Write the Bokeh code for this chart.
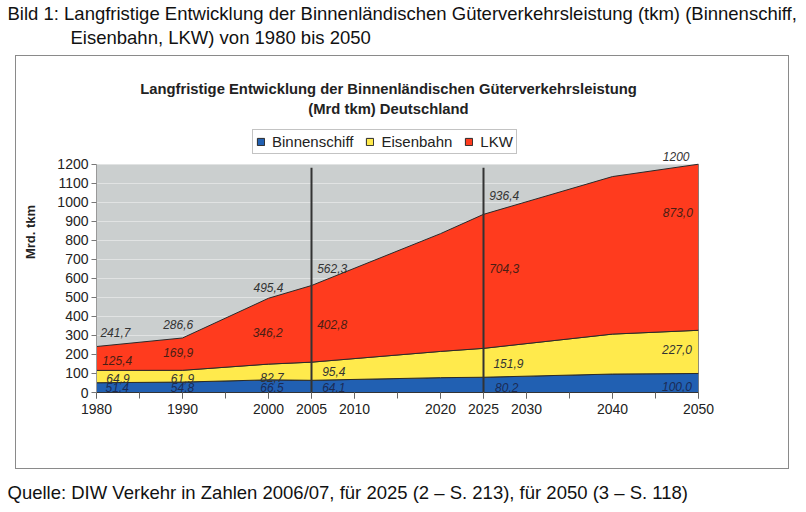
import numpy as np
from bokeh.plotting import figure
from bokeh.models import Range1d, FixedTicker, Label, Legend, LegendItem, Title, BoxAnnotation
from bokeh.embed import file_html
from bokeh.resources import INLINE

# ---------------- data ----------------
years = [1980, 1990, 2000, 2005, 2020, 2025, 2040, 2050]
binnenschiff = [51.4, 54.8, 66.5, 64.1, 78.0, 80.2, 97.0, 100.0]
eisenbahn = [64.9, 61.9, 82.7, 95.4, 138.0, 151.9, 210.0, 227.0]
lkw = [125.4, 169.9, 346.2, 402.8, 619.0, 704.3, 828.0, 873.0]
labelled_years = [1980, 1990, 2000, 2005, 2025, 2050]
marker_years = [2005, 2025]
x_label_years = [1980, 1990, 2000, 2005, 2010, 2020, 2025, 2030, 2040, 2050]
x_tick_years = list(range(1980, 2051, 5))
y_ticks = list(range(0, 1201, 100))
series_names = ["Binnenschiff", "Eisenbahn", "LKW"]

page_title_1 = "Bild 1:  Langfristige Entwicklung der Binnenländischen Güterverkehrsleistung (tkm) (Binnenschiff,"
page_title_2 = "Eisenbahn, LKW) von 1980 bis 2050"
chart_title_1 = "Langfristige Entwicklung der Binnenländischen Güterverkehrsleistung"
chart_title_2 = "(Mrd tkm) Deutschland"
y_title = "Mrd. tkm"
source_text = "Quelle: DIW Verkehr in Zahlen 2006/07, für 2025 (2 – S. 213), für 2050 (3 – S. 118)"

# ---------------- styles / layout ----------------
colors = ["#2160B2", "#FFEA4C", "#FF3B1E"]
label_colors = ["#1B2B55", "#333333", "#4A1E14"]
total_color = "#333333"
plot_bg = "#CBCFCF"
FONT = "Liberation Sans"
W, H = 806, 512
X0, X1, YMAX = 1980, 2050, 1200
FL, FR, FT, FB = 96, 698, 70, 392   # frame (extends above the 1200 line)
PX_TOP = 163                        # pixel row of the 1200 line

# label layout: (year position, value position) for each labelled year
pos_b = [(1982.4, 27), (1990.0, 27), (2000.4, 27), (2007.6, 27), (2027.7, 27), (2047.5, 32)]
pos_e = [(1982.5, 76), (1990.0, 76), (2000.4, 78), (2007.6, 109), (2027.9, 150), (2047.5, 225)]
pos_l = [(1982.4, 166), (1989.5, 209), (1999.9, 314), (2007.4, 360), (2027.4, 650), (2047.6, 945)]
pos_t = [(1982.2, 314), (1989.5, 360), (2000.0, 550), (2007.4, 650), (2027.4, 1033), (2047.4, 1239)]


def fmt(v):
    return f"{v:.1f}".replace(".", ",")


def dx(px):
    return X0 + (px - FL) * (X1 - X0) / (FR - FL)


def dy(py):
    return (FB - py) * YMAX / (FB - PX_TOP)


box_css = ("linear-gradient(#8A8A8A,#8A8A8A) 15px 55px / 774px 1px no-repeat, "
           "linear-gradient(#8A8A8A,#8A8A8A) 15px 468px / 774px 1px no-repeat, "
           "linear-gradient(#8A8A8A,#8A8A8A) 15px 55px / 1px 414px no-repeat, "
           "linear-gradient(#8A8A8A,#8A8A8A) 788px 55px / 1px 414px no-repeat, white")

p = figure(width=W, height=H, output_backend="svg", toolbar_location=None,
           x_range=Range1d(X0, X1), y_range=Range1d(0, dy(FT)),
           min_border_left=FL, min_border_right=W - FR,
           min_border_top=FT, min_border_bottom=H - FB)
p.background_fill_color = None
p.border_fill_color = "white"
p.border_fill_alpha = 0
p.outline_line_color = None
p.styles = {"background": box_css}

# grey plot area (0..1200), drawn beneath the grid lines
area_bg = BoxAnnotation(left=X0, right=X1, bottom=0, top=YMAX, fill_color=plot_bg,
                        fill_alpha=1, line_color=None, level="underlay")
p.center.insert(0, area_bg)

x = np.array(years, dtype=float)
vals = [np.array(binnenschiff), np.array(eisenbahn), np.array(lkw)]
levels = [np.zeros(len(years))]
for v in vals:
    levels.append(levels[-1] + v)

renderers = []
for i in range(3):
    lo, hi = levels[i], levels[i + 1]
    xs = np.concatenate([x, x[::-1]])
    ys = np.concatenate([hi, lo[::-1]])
    r = p.patch(xs, ys, fill_color=colors[i], line_color="#2A2A2A", line_width=1)
    renderers.append(r)

p.segment(x0=marker_years, y0=[0] * len(marker_years), x1=marker_years,
          y1=[1181] * len(marker_years), line_color="#333333", line_width=2)

# grid / axes
p.xgrid.visible = False
p.ygrid.grid_line_color = "#E1E3E3"
p.ygrid.grid_line_width = 1
p.yaxis.ticker = FixedTicker(ticks=y_ticks)
p.yaxis.bounds = (0, YMAX)
p.xaxis.ticker = FixedTicker(ticks=x_label_years, minor_ticks=x_tick_years)
for ax in (p.xaxis[0], p.yaxis[0]):
    ax.major_label_text_font = FONT
    ax.major_label_text_font_size = "14px"
    ax.major_label_text_color = "#222222"
    ax.major_tick_in = 0
    ax.minor_tick_in = 0
p.xaxis.major_tick_out = 6
p.xaxis.minor_tick_out = 6
p.xaxis.axis_line_color = "#333333"
p.xaxis.major_tick_line_color = "#666666"
p.xaxis.minor_tick_line_color = "#666666"
p.xaxis.major_label_standoff = 5
p.yaxis.major_tick_out = 5
p.yaxis.minor_tick_out = 0
p.yaxis.axis_line_color = "#999999"
p.yaxis.major_tick_line_color = "#777777"
p.yaxis.major_label_standoff = 3
p.yaxis.axis_label = y_title
p.yaxis.axis_label_text_font = FONT
p.yaxis.axis_label_text_font_style = "bold"
p.yaxis.axis_label_text_font_size = "13px"
p.yaxis.axis_label_text_color = "#222222"
p.yaxis.axis_label_standoff = 16

# data labels
idx = [years.index(yr) for yr in labelled_years]
totals = levels[3]
groups = [
    (vals[0], pos_b, label_colors[0]),
    (vals[1], pos_e, label_colors[1]),
    (vals[2], pos_l, label_colors[2]),
]
for series, pos, col in groups:
    for k, (px_, py_) in zip(idx, pos):
        p.add_layout(Label(x=px_, y=py_, text=fmt(series[k]), text_font=FONT,
                           text_font_size="12px", text_font_style="italic",
                           text_color=col, text_align="center", text_baseline="middle"))
for n, (k, (px_, py_)) in enumerate(zip(idx, pos_t)):
    t = totals[k]
    txt = str(int(round(t))) if n == len(idx) - 1 else fmt(t)
    p.add_layout(Label(x=px_, y=py_, text=txt, text_font=FONT,
                       text_font_size="12px", text_font_style="italic",
                       text_color=total_color, text_align="center", text_baseline="middle"))

# chart titles (inside the frame, above the grey area)
for txt, py in ((chart_title_1, 88), (chart_title_2, 108)):
    p.add_layout(Label(x=dx(388), y=dy(py), text=txt, text_font=FONT,
                       text_font_size="14.8px", text_font_style="bold", text_color="#222222",
                       text_align="center", text_baseline="middle"))

# legend
legend = Legend(items=[LegendItem(label=series_names[i], renderers=[renderers[i]]) for i in range(3)],
                orientation="horizontal", location=(252 - FL, FB - 154))
legend.label_text_font = FONT
legend.label_text_font_size = "15px"
legend.label_text_color = "#222222"
legend.glyph_width = 9
legend.glyph_height = 9
legend.label_height = 14
legend.label_standoff = 7
legend.spacing = 12
legend.padding = 3
legend.margin = 0
legend.border_line_color = "#888888"
legend.border_line_width = 1
legend.background_fill_color = "white"
legend.background_fill_alpha = 1
p.add_layout(legend, "center")


def title(txt, offset, standoff, size, side="above"):
    p.add_layout(Title(text=txt, align="left", offset=offset, standoff=standoff,
                       text_font=FONT, text_font_size=size, text_font_style="normal",
                       text_color="#111111"), side)


# page titles (above panel, stacked from the frame outwards)
title(" ", 0, 8, "12px")                 # spacer
title(page_title_2, 70 - FL, 0, "18.5px")
title(page_title_1, 7 - FL, 1, "18.5px")

# source line (below panel)
title(" ", 0, 47, "12px", side="below")  # spacer
title(source_text, 7 - FL, 0, "18.5px", side="below")

open("out.html", "w").write(file_html(p, INLINE))
